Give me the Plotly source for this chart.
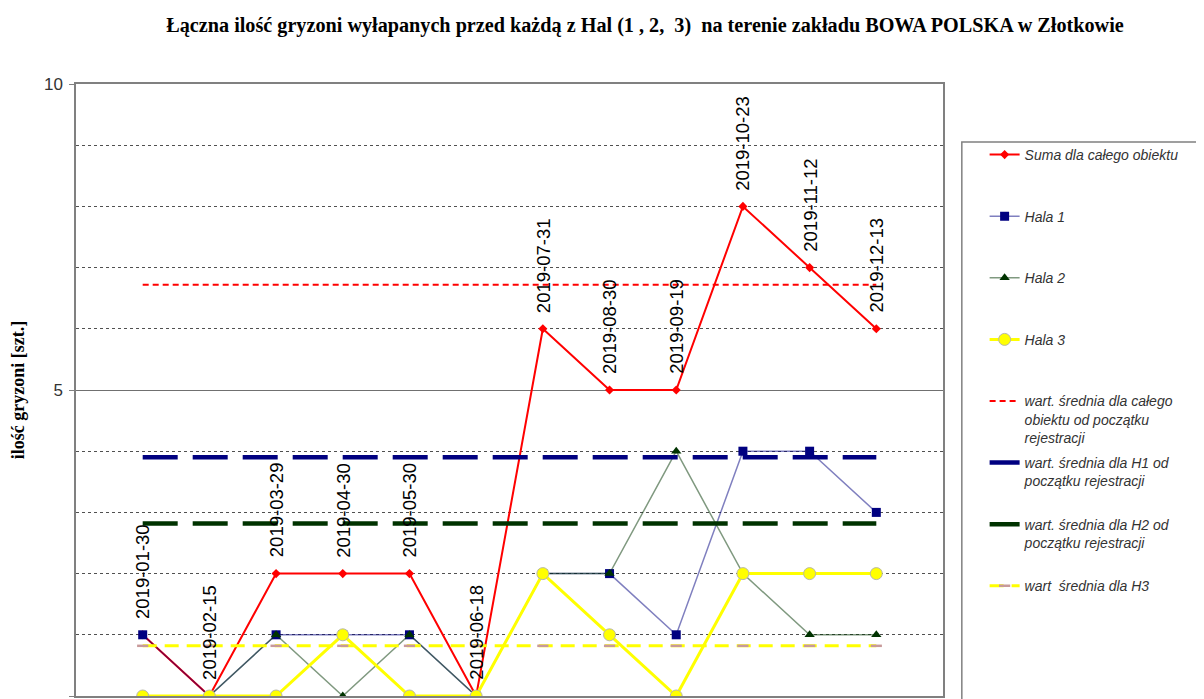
import plotly.graph_objects as go

dates = ["2019-01-30", "2019-02-15", "2019-03-29", "2019-04-30", "2019-05-30", "2019-06-18",
         "2019-07-31", "2019-08-30", "2019-09-19", "2019-10-23", "2019-11-12", "2019-12-13"]
suma = [1, 0, 2, 2, 2, 0, 6, 5, 5, 8, 7, 6]
hala1 = [1, 0, 1, 1, 1, 0, 2, 2, 1, 4, 4, 3]
hala2 = [0, 0, 1, 0, 1, 0, 2, 2, 4, 2, 1, 1]
hala3 = [0, 0, 0, 1, 0, 0, 2, 1, 0, 2, 2, 2]
mean_total = [6.72, 6.72, 6.72, 6.72, 6.72, 6.72, 6.72, 6.72, 6.72, 6.72, 6.72, 6.72]
mean_h1 = [3.9, 3.9, 3.9, 3.9, 3.9, 3.9, 3.9, 3.9, 3.9, 3.9, 3.9, 3.9]
mean_h2 = [2.82, 2.82, 2.82, 2.82, 2.82, 2.82, 2.82, 2.82, 2.82, 2.82, 2.82, 2.82]
mean_h3 = [0.82, 0.82, 0.82, 0.82, 0.82, 0.82, 0.82, 0.82, 0.82, 0.82, 0.82, 0.82]

names = [
    "Suma dla całego obiektu",
    "Hala 1",
    "Hala 2",
    "Hala 3",
    "wart. średnia dla całego<br>obiektu od początku<br>rejestracji",
    "wart. średnia dla H1 od<br>początku rejestracji",
    "wart. średnia dla H2 od<br>początku rejestracji",
    "wart\u00a0 średnia dla H3",
]

def pad(n):
    k = n.count("<br>")
    return n + "<br>\u00a0" * (2 - k)

# page body offsets the figure by 8px; work in figure pixels
W, H = 1196, 691
L, T, B = 60, 76, 3
PW = 875
PH = H - T - B
R = W - L - PW

def px(xs):
    return (xs - 8 - L) / PW

def py(ys):
    return (H - B - (ys - 8)) / PH

fig = go.Figure()

fig.add_trace(go.Scatter(x=dates, y=suma, mode="lines+markers", name=pad(names[0]), legendgroup="g1",
                         legendrank=1, line=dict(color="#FF0000", width=2),
                         marker=dict(symbol="diamond", size=7, color="#FF0000")))
fig.add_trace(go.Scatter(x=dates, y=hala1, mode="lines+markers", name=pad(names[1]), legendgroup="g2",
                         legendrank=2, line=dict(color="rgba(0,0,128,0.5)", width=1.5),
                         marker=dict(symbol="square", size=9, color="#000080")))
fig.add_trace(go.Scatter(x=dates, y=hala2, mode="lines+markers", name=pad(names[2]), legendgroup="g3",
                         legendrank=3, line=dict(color="rgba(0,51,0,0.5)", width=1.5),
                         marker=dict(symbol="triangle-up", size=9, color="#003300")))
fig.add_trace(go.Scatter(x=dates, y=hala3, mode="lines+markers", name=pad(names[3]), legendgroup="g4",
                         legendrank=4, line=dict(color="#FFFF00", width=3),
                         marker=dict(symbol="circle", size=12, color="#FFFF00",
                                     line=dict(color="#B8B8A8", width=1))))
fig.add_trace(go.Scatter(x=dates, y=mean_total, mode="lines", name=pad(names[4]), legendgroup="g5",
                         legendrank=5, line=dict(color="#FF0000", width=2, dash="6px,4px")))
fig.add_trace(go.Scatter(x=dates, y=mean_h1, mode="lines", name=pad(names[5]), legendgroup="g6",
                         legendrank=6, line=dict(color="#000080", width=4.5, dash="35px,15px")))
fig.add_trace(go.Scatter(x=dates, y=mean_h2, mode="lines", name=pad(names[6]), legendgroup="g7",
                         legendrank=7, line=dict(color="#003300", width=4.5, dash="35px,15px")))
fig.add_trace(go.Scatter(x=dates, y=mean_h3, mode="lines+markers", name=pad(names[7]), legendgroup="g8",
                         legendrank=8, line=dict(color="#FFFF00", width=3, dash="14px,8px"),
                         marker=dict(symbol="line-ew", size=8, color="#C89A9A",
                                     line=dict(color="#C89A9A", width=2.5))))

for d, v in zip(dates, suma):
    fig.add_annotation(x=d, y=v, xref="x", yref="y", text=d, textangle=-90, showarrow=False,
                       xanchor="center", yanchor="bottom", yshift=14,
                       font=dict(family="Arial, Liberation Sans", size=18.5, color="#000000"))

# legend frame
fig.add_shape(type="rect", xref="paper", yref="paper", x0=px(962), x1=px(1225),
              y0=py(720), y1=py(142), line=dict(color="#808080", width=1.5),
              fillcolor="rgba(0,0,0,0)", layer="above")

fig.update_layout(
    width=W, height=H,
    margin=dict(l=L, r=R, t=T, b=B),
    paper_bgcolor="white", plot_bgcolor="white",
    title=dict(text="<b>Łączna ilość gryzoni wyłapanych przed każdą z Hal (1 , 2,  3)  na terenie zakładu BOWA POLSKA w Złotkowie</b>",
               x=(645 - 8) / W, xanchor="center", y=1 - (25 - 8) / H, yanchor="middle",
               font=dict(family="Liberation Serif, Times New Roman", size=20.2, color="#000000")),
    showlegend=True,
    legend=dict(x=px(985), xanchor="left", y=py(139), yanchor="top",
                bgcolor="rgba(0,0,0,0)", borderwidth=0, tracegroupgap=4, valign="top",
                traceorder="grouped",
                font=dict(family="Arial, Liberation Sans", size=14, color="#333333", style="italic")),
    xaxis=dict(type="category", range=[-1, 12], showticklabels=False, showgrid=False,
               showline=True, linecolor="#808080", linewidth=1.5, mirror=True, ticks="",
               zeroline=False),
    yaxis=dict(range=[0, 10], dtick=5, tick0=0, showgrid=True, gridcolor="#707070", gridwidth=1,
               showline=True, linecolor="#808080", linewidth=1.5, mirror=True, ticks="outside",
               ticklen=5, tickcolor="#808080", zeroline=False, ticklabelstandoff=3,
               tickfont=dict(family="Arial, Liberation Sans", size=17, color="#333333"),
               minor=dict(dtick=1, showgrid=True, gridcolor="#505050", griddash="dot", gridwidth=1),
               title=dict(text="<b>ilość gryzoni [szt.]</b>", standoff=20,
                          font=dict(family="Liberation Serif, Times New Roman", size=18, color="#000000"))),
)

fig.write_html("out.html")
